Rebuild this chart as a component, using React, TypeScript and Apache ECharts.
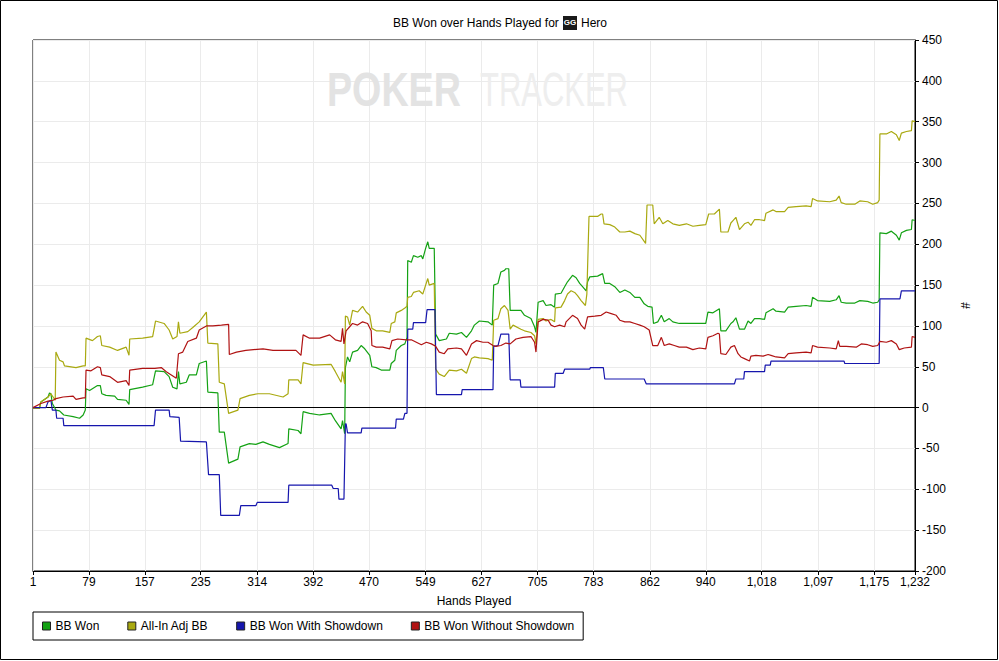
import React, { useEffect, useRef } from "react";
import * as echarts from "echarts";

const FONT = "'Liberation Sans', Arial, sans-serif";

const xTicks = [1, 79, 157, 235, 314, 392, 470, 549, 627, 705, 783, 862, 940, 1018, 1097, 1175, 1232];

const seriesNames = ["BB Won", "All-In Adj BB", "BB Won With Showdown", "BB Won Without Showdown"];
const seriesColors = ["#14a214", "#a9a910", "#1616ad", "#b01313"];

const bbWon: [number, number][] = [
  [1, -1], [10, -1], [12, 7], [22, 13], [24, 18], [26, 17], [28, 5], [33, -3], [38, -4], [44, -9], [57, -11], [66, -13], [71, -9], [74, -3], [75, 23], [80, 21], [91, 27], [95, 27], [97, 17], [103, 15], [115, 14], [119, 10], [131, 9], [135, 4], [136, 22], [154, 25], [168, 28], [172, 45], [184, 44], [191, 38], [196, 25], [202, 23], [204, 44], [206, 29], [215, 31], [219, 40], [229, 40], [233, 54], [243, 57], [245, 19], [259, 18], [261, -30], [268, -30], [274, -68], [287, -63], [290, -48], [303, -44], [312, -45], [322, -42], [331, -45], [345, -49], [357, -44], [358, -26], [371, -28], [375, -32], [378, -5], [387, -7], [401, -9], [417, -7], [423, -16], [431, -26], [433, -16], [436, -32], [437, 49], [440, 62], [443, 56], [447, 68], [454, 70], [459, 76], [464, 72], [471, 64], [474, 50], [480, 49], [487, 46], [499, 46], [501, 54], [506, 58], [508, 70], [515, 76], [520, 78], [523, 86], [524, 180], [529, 178], [532, 186], [538, 184], [543, 186], [545, 182], [549, 195], [552, 203], [554, 195], [561, 195], [563, 90], [568, 82], [578, 84], [582, 91], [592, 90], [599, 92], [606, 86], [613, 94], [617, 101], [624, 106], [636, 105], [642, 101], [644, 150], [650, 152], [654, 166], [659, 168], [661, 170], [665, 170], [667, 119], [682, 119], [687, 113], [696, 109], [701, 99], [703, 92], [706, 129], [713, 131], [717, 125], [724, 126], [729, 123], [730, 139], [738, 140], [743, 148], [747, 154], [754, 162], [759, 159], [764, 152], [768, 148], [773, 143], [775, 154], [778, 160], [789, 161], [796, 164], [799, 152], [806, 152], [813, 148], [820, 141], [827, 144], [834, 141], [841, 135], [848, 135], [854, 127], [859, 124], [865, 123], [867, 103], [873, 105], [878, 113], [882, 105], [889, 109], [894, 105], [903, 103], [913, 103], [922, 103], [931, 103], [940, 103], [943, 117], [950, 116], [959, 121], [961, 94], [968, 94], [975, 103], [978, 105], [982, 110], [987, 96], [994, 96], [999, 106], [1003, 103], [1008, 109], [1015, 109], [1022, 108], [1024, 116], [1034, 121], [1038, 118], [1050, 117], [1055, 123], [1066, 124], [1080, 125], [1087, 124], [1089, 135], [1096, 131], [1113, 130], [1122, 132], [1126, 137], [1129, 129], [1136, 128], [1148, 128], [1155, 131], [1166, 130], [1173, 128], [1180, 129], [1182, 132], [1183, 214], [1192, 213], [1199, 216], [1206, 211], [1210, 205], [1213, 214], [1220, 217], [1227, 218], [1228, 230], [1232, 229],
];

const allInAdj: [number, number][] = [
  [1, -1], [10, -1], [12, 7], [22, 13], [26, 17], [32, 9], [33, 68], [38, 58], [43, 56], [45, 51], [61, 49], [71, 51], [74, 51], [75, 85], [84, 82], [91, 87], [95, 88], [97, 76], [108, 74], [119, 70], [131, 74], [135, 64], [136, 84], [154, 85], [168, 87], [172, 106], [184, 103], [191, 95], [196, 84], [202, 87], [204, 105], [206, 91], [217, 93], [224, 98], [233, 105], [243, 117], [245, 79], [259, 78], [261, 31], [268, 29], [274, -7], [287, -3], [290, 11], [303, 15], [315, 17], [331, 17], [350, 13], [357, 17], [358, 34], [371, 34], [375, 29], [378, 55], [392, 52], [417, 53], [423, 44], [431, 31], [433, 44], [436, 29], [437, 112], [440, 111], [443, 101], [447, 119], [454, 117], [461, 124], [466, 117], [471, 113], [474, 97], [480, 94], [489, 94], [499, 92], [501, 103], [506, 105], [508, 116], [515, 119], [520, 122], [523, 124], [524, 135], [529, 136], [532, 141], [540, 143], [545, 139], [549, 150], [552, 158], [554, 150], [561, 152], [563, 47], [568, 41], [575, 38], [582, 46], [592, 45], [599, 47], [606, 42], [613, 60], [617, 62], [624, 61], [636, 60], [642, 58], [644, 107], [650, 109], [654, 121], [659, 125], [664, 119], [667, 96], [671, 101], [682, 96], [687, 94], [696, 92], [701, 88], [703, 78], [706, 108], [713, 109], [717, 106], [724, 108], [729, 105], [730, 122], [738, 123], [743, 131], [747, 139], [752, 143], [757, 141], [761, 137], [766, 131], [772, 125], [774, 139], [777, 234], [789, 234], [794, 237], [796, 237], [798, 225], [806, 224], [813, 221], [820, 215], [827, 215], [834, 216], [841, 213], [848, 211], [856, 201], [858, 248], [866, 248], [868, 225], [875, 233], [880, 225], [887, 229], [894, 225], [903, 223], [913, 225], [922, 222], [931, 223], [940, 224], [944, 237], [952, 237], [959, 243], [961, 215], [971, 215], [975, 226], [978, 229], [982, 233], [987, 218], [994, 225], [999, 227], [1003, 223], [1008, 230], [1015, 230], [1022, 229], [1024, 238], [1034, 242], [1038, 240], [1050, 240], [1055, 245], [1066, 246], [1080, 247], [1087, 246], [1089, 256], [1096, 253], [1113, 252], [1122, 254], [1126, 259], [1129, 251], [1136, 249], [1148, 249], [1155, 253], [1166, 252], [1173, 249], [1180, 251], [1182, 254], [1183, 335], [1192, 335], [1199, 338], [1206, 334], [1210, 327], [1213, 336], [1220, 338], [1227, 339], [1228, 351], [1232, 350],
];

const withShowdown: [number, number][] = [
  [1, 0], [19, 0], [22, 7], [26, 9], [28, -3], [33, -3], [34, -13], [43, -13], [44, -22], [170, -22], [172, -3], [191, -3], [192, -11], [205, -12], [207, -41], [243, -42], [246, -82], [261, -82], [263, -132], [289, -132], [291, -120], [312, -120], [314, -116], [357, -116], [358, -95], [418, -95], [420, -99], [427, -99], [428, -112], [435, -112], [437, -20], [438, -20], [440, -31], [459, -31], [460, -25], [507, -25], [508, -14], [518, -14], [520, -7], [523, -7], [524, 96], [531, 96], [532, 104], [549, 104], [551, 120], [562, 120], [564, 16], [599, 16], [600, 22], [643, 22], [644, 75], [650, 76], [654, 90], [665, 90], [667, 34], [681, 34], [682, 25], [729, 25], [730, 42], [741, 42], [743, 47], [778, 47], [779, 49], [797, 49], [799, 35], [854, 35], [857, 29], [980, 29], [982, 35], [993, 35], [994, 44], [1022, 44], [1023, 52], [1030, 52], [1031, 57], [1133, 57], [1134, 54], [1182, 54], [1183, 133], [1211, 133], [1213, 143], [1232, 143],
];

const withoutShowdown: [number, number][] = [
  [1, 0], [12, 5], [22, 8], [29, 9], [33, 11], [43, 13], [57, 14], [61, 10], [71, 12], [74, 12], [75, 46], [82, 45], [91, 50], [95, 49], [97, 40], [108, 38], [119, 31], [131, 33], [135, 27], [136, 46], [154, 48], [171, 48], [180, 49], [187, 44], [201, 36], [204, 66], [210, 68], [217, 81], [229, 85], [233, 95], [243, 100], [252, 100], [264, 101], [274, 102], [275, 65], [285, 68], [298, 70], [322, 72], [336, 70], [354, 70], [368, 70], [375, 64], [378, 89], [387, 85], [401, 85], [415, 89], [423, 83], [431, 81], [433, 97], [435, 78], [438, 94], [443, 99], [447, 103], [454, 101], [461, 105], [468, 103], [473, 94], [474, 76], [480, 74], [489, 74], [499, 72], [502, 82], [510, 84], [522, 83], [529, 83], [536, 80], [543, 77], [550, 80], [557, 78], [563, 75], [568, 68], [575, 66], [580, 72], [592, 73], [599, 72], [606, 64], [613, 78], [620, 82], [629, 80], [636, 80], [643, 76], [647, 75], [654, 76], [661, 79], [667, 78], [675, 84], [685, 86], [696, 87], [701, 80], [703, 68], [706, 105], [713, 108], [720, 107], [724, 101], [729, 99], [736, 101], [743, 99], [745, 105], [754, 113], [761, 109], [766, 101], [771, 96], [775, 111], [785, 112], [794, 113], [801, 117], [808, 115], [815, 113], [820, 107], [827, 105], [834, 105], [841, 103], [848, 101], [854, 99], [861, 95], [866, 76], [873, 76], [878, 86], [882, 76], [889, 78], [896, 76], [903, 74], [913, 74], [922, 71], [931, 73], [940, 72], [943, 86], [950, 88], [957, 91], [959, 90], [961, 66], [968, 65], [975, 74], [980, 76], [985, 66], [989, 62], [994, 60], [1001, 57], [1003, 63], [1010, 64], [1020, 63], [1027, 65], [1031, 64], [1038, 62], [1050, 61], [1055, 66], [1066, 67], [1080, 68], [1087, 67], [1089, 76], [1096, 74], [1113, 73], [1122, 72], [1125, 82], [1127, 75], [1136, 75], [1150, 74], [1157, 78], [1166, 77], [1173, 75], [1180, 76], [1183, 81], [1192, 80], [1199, 82], [1206, 78], [1210, 71], [1217, 73], [1227, 74], [1228, 87], [1232, 86],
];

const seriesData = [bbWon, allInAdj, withShowdown, withoutShowdown];

function withCommas(v: number): string {
  const s = String(Math.round(v));
  return s.replace(/\B(?=(\d{3})+(?!\d))/g, ",");
}

export default function App() {
  const ref = useRef<HTMLDivElement>(null);

  useEffect(() => {
    if (!ref.current) return;
    const chart = echarts.init(ref.current, null, { renderer: "svg" });
    const textBase = { fontFamily: FONT, fontSize: 12, color: "#000" };

    const series: any[] = seriesNames.map((name, i) => ({
      name,
      type: "line",
      data: seriesData[i],
      showSymbol: false,
      symbol: "none",
      lineStyle: { color: seriesColors[i], width: 1.2 },
      itemStyle: { color: seriesColors[i] },
      emphasis: { disabled: true },
      silent: true,
      z: 3 + i,
    }));
    series[0].markLine = {
      silent: true,
      symbol: ["none", "none"],
      label: { show: false },
      lineStyle: { color: "#000", width: 1, type: "solid" },
      data: [{ yAxis: 0 }],
      z: 2,
    };

    chart.setOption({
      animation: false,
      backgroundColor: "#fff",
      grid: {
        left: 33,
        top: 40,
        right: 84,
        bottom: 90,
        show: true,
        borderColor: "#000",
        borderWidth: 1,
      },
      xAxis: {
        type: "value",
        min: 1,
        max: 1232,
        axisLine: { show: true, onZero: false, lineStyle: { color: "#000", width: 1 } },
        axisTick: { show: true, length: 4, customValues: xTicks, lineStyle: { color: "#000" } },
        axisLabel: {
          customValues: xTicks,
          formatter: (v: number) => withCommas(v),
          ...textBase,
          margin: 5,
        },
        splitLine: { show: true, lineStyle: { color: "#ebebeb", width: 1 } },
        name: "Hands Played",
        nameLocation: "middle",
        nameGap: 24,
        nameTextStyle: textBase,
      },
      yAxis: {
        type: "value",
        position: "right",
        min: -200,
        max: 450,
        interval: 50,
        axisLine: { show: true, lineStyle: { color: "#000", width: 1 } },
        axisTick: { show: true, length: 4, lineStyle: { color: "#000" } },
        axisLabel: { ...textBase, margin: 7 },
        splitLine: { show: true, lineStyle: { color: "#ebebeb", width: 1 } },
        name: "#",
        nameLocation: "middle",
        nameGap: 44,
        nameRotate: -90,
        nameTextStyle: textBase,
      },
      legend: {
        show: true,
        left: 33,
        top: 612,
        orient: "horizontal",
        icon: "rect",
        itemWidth: 8,
        itemHeight: 8,
        itemGap: 28,
        borderColor: "#000",
        borderWidth: 1,
        padding: [8, 9, 8, 9],
        selectedMode: false,
        textStyle: { ...textBase },
        itemStyle: { borderColor: "#222", borderWidth: 1 },
        data: seriesNames,
      },
      graphic: [
        {
          type: "rect",
          silent: true,
          z: 100,
          shape: { x: 0.5, y: 0.5, width: 997, height: 659 },
          style: { fill: "none", stroke: "#000", lineWidth: 1 },
        },
        {
          type: "text",
          silent: true,
          z: 1,
          x: 327,
          y: 89.5,
          scaleX: 0.785,
          style: {
            text: "POKER",
            fontFamily: FONT,
            fontSize: 48,
            fontWeight: "bold",
            fill: "#e3e3e3",
            textAlign: "left",
            verticalAlign: "middle",
          },
        },
        {
          type: "text",
          silent: true,
          z: 1,
          x: 480,
          y: 89.5,
          scaleX: 0.645,
          style: {
            text: "TRACKER",
            fontFamily: FONT,
            fontSize: 48,
            fontWeight: "normal",
            fill: "#eeeeee",
            textAlign: "left",
            verticalAlign: "middle",
          },
        },
        {
          type: "text",
          silent: true,
          x: 393,
          y: 23,
          style: {
            text: "BB Won over Hands Played for",
            fontFamily: FONT,
            fontSize: 12,
            fill: "#000",
            textAlign: "left",
            verticalAlign: "middle",
          },
        },
        {
          type: "rect",
          silent: true,
          shape: { x: 563, y: 16, width: 14, height: 14 },
          style: { fill: "#1a1a1a" },
        },
        {
          type: "text",
          silent: true,
          x: 570,
          y: 22,
          style: {
            text: "GG",
            fontFamily: FONT,
            fontSize: 8,
            fontWeight: "bold",
            fill: "#ffffff",
            textAlign: "center",
            verticalAlign: "middle",
          },
        },
        {
          type: "text",
          silent: true,
          x: 581,
          y: 23,
          style: {
            text: "Hero",
            fontFamily: FONT,
            fontSize: 12,
            fill: "#000",
            textAlign: "left",
            verticalAlign: "middle",
          },
        },
      ],
      series,
    });
    return () => chart.dispose();
  }, []);

  return (
    <div
      ref={ref}
      style={{ position: "fixed", left: 0, top: 0, width: 999, height: 661, background: "#fff" }}
    />
  );
}
